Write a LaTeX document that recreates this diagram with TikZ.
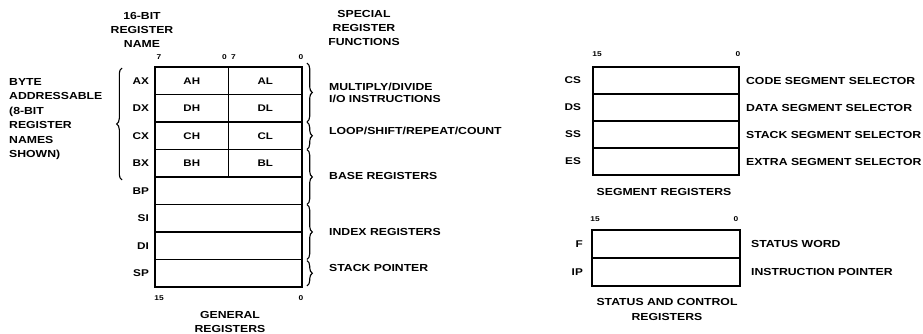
\documentclass[tikz,border=0pt]{standalone}
\usepackage{fontspec}
\newfontfamily\lab{Liberation Sans}[FakeStretch=1.2]
\usetikzlibrary{decorations.pathreplacing}
\begin{document}
\begin{tikzpicture}[x=1pt,y=-1pt,
  lbl/.style={font=\lab\bfseries\fontsize{10.2}{14.4}\selectfont, inner sep=0pt},
  lbltwo/.style={font=\lab\bfseries\fontsize{10.2}{12}\selectfont, inner sep=0pt, align=left, anchor=west},
  rname/.style={font=\lab\bfseries\fontsize{9.8}{10}\selectfont, inner sep=0pt, anchor=east},
  bit/.style={font=\lab\bfseries\fontsize{7}{7}\selectfont, inner sep=0pt},
  cell/.style={draw, line width=1.9pt, minimum height=27.5pt, inner sep=0pt,
    font=\lab\bfseries\fontsize{9.6}{10}\selectfont},
  full/.style={cell, minimum width=147pt},
  half/.style={cell, minimum width=73.5pt},
  seg/.style={cell, minimum width=146pt, minimum height=27pt},
  stat/.style={cell, minimum width=148pt, minimum height=28pt},
  brc/.style={decorate, decoration={brace, amplitude=5.5pt}, line width=1.1pt},
  fn/.style={lbl, anchor=west}]
\useasboundingbox (0,0) rectangle (923,334);

% ---- general registers ----
\node[half] (ah) at (191.75,80.75) {AH};
\node[half] (al) at (265.25,80.75) {AL};
\node[half] (dh) at (191.75,108.25) {DH};
\node[half] (dl) at (265.25,108.25) {DL};
\node[half] (ch) at (191.75,135.75) {CH};
\node[half] (cl) at (265.25,135.75) {CL};
\node[half] (bh) at (191.75,163.25) {BH};
\node[half] (bl) at (265.25,163.25) {BL};
\node[full] (bp) at (228.5,190.75) {};
\node[full] (si) at (228.5,218.25) {};
\node[full] (di) at (228.5,245.75) {};
\node[full] (sp) at (228.5,273.25) {};

\node[rname] (nax) at ([xshift=-5pt]ah.west) {AX};
\node[rname] (ndx) at ([xshift=-5pt]dh.west) {DX};
\node[rname] (ncx) at ([xshift=-5pt]ch.west) {CX};
\node[rname] (nbx) at ([xshift=-5pt]bh.west) {BX};
\node[rname] (nbp) at ([xshift=-5pt]bp.west) {BP};
\node[rname] (nsi) at ([xshift=-5pt]si.west) {SI};
\node[rname] (ndi) at ([xshift=-5pt]di.west) {DI};
\node[rname] (nsp) at ([xshift=-5pt]sp.west) {SP};

\node[bit] (b7a) at ([xshift=5pt,yshift=9pt]ah.north west) {7};
\node[bit] (b0a) at ([xshift=-5pt,yshift=9pt]ah.north east) {0};
\node[bit] (b7b) at ([xshift=6pt,yshift=9pt]al.north west) {7};
\node[bit] (b0b) at ([xshift=-2pt,yshift=9pt]al.north east) {0};
\node[bit] (b15g) at ([xshift=5pt,yshift=-10pt]sp.south west) {15};
\node[bit] (b0g) at ([xshift=-2pt,yshift=-10pt]sp.south east) {0};

\node[lbl, align=center] (ttl) at (142,30) {16-BIT\\REGISTER\\NAME};
\node[lbl, align=center] (spf) at (364,28) {SPECIAL\\REGISTER\\FUNCTIONS};
\node[lbl, align=left, anchor=west] (byte) at (9,119) {BYTE\\ADDRESSABLE\\(8-BIT\\REGISTER\\NAMES\\SHOWN)};
\node[lbl, align=center] (gen) at (230,322) {GENERAL\\REGISTERS};

% braces
\draw[brc] ([xshift=-32pt,yshift=-2pt]bh.south west) -- ([xshift=-32pt,yshift=-2pt]ah.north west);
\draw[brc] ([xshift=4pt,yshift=3pt]al.north east) -- ([xshift=4pt,yshift=1pt]dl.south east);
\draw[brc] ([xshift=4pt,yshift=-1pt]cl.north east) -- ([xshift=4pt,yshift=1pt]cl.south east);
\draw[brc] ([xshift=4pt,yshift=-1pt]bl.north east) -- ([xshift=4pt,yshift=1pt]bp.south east);
\draw[brc] ([xshift=4pt,yshift=-1pt]si.north east) -- ([xshift=4pt,yshift=1pt]di.south east);
\draw[brc] ([xshift=4pt,yshift=-2pt]sp.north east) -- ([xshift=4pt,yshift=2pt]sp.south east);

\node[lbltwo] (fmul) at (329,93) {MULTIPLY/DIVIDE\\I/O INSTRUCTIONS};
\node[fn] (floop) at (329,131) {LOOP/SHIFT/REPEAT/COUNT};
\node[fn] (fbase) at (329,176) {BASE REGISTERS};
\node[fn] (findex) at (329,232) {INDEX REGISTERS};
\node[fn] (fstack) at (329,268) {STACK POINTER};

% ---- segment registers ----
\node[seg] (cs) at (666,80.5) {};
\node[seg] (ds) at (666,107.5) {};
\node[seg] (ss) at (666,134.5) {};
\node[seg] (es) at (666,161.5) {};
\node[rname] (ncs) at ([xshift=-11pt]cs.west) {CS};
\node[rname] (nds) at ([xshift=-11pt]ds.west) {DS};
\node[rname] (nss) at ([xshift=-11pt]ss.west) {SS};
\node[rname] (nes) at ([xshift=-11pt]es.west) {ES};
\node[bit] (b15s) at ([xshift=5pt,yshift=12pt]cs.north west) {15};
\node[bit] (b0s) at ([xshift=-2pt,yshift=12pt]cs.north east) {0};
\node[fn] (lcs) at ([xshift=6pt]cs.east) {CODE SEGMENT SELECTOR};
\node[fn] (lds) at ([xshift=6pt]ds.east) {DATA SEGMENT SELECTOR};
\node[fn] (lss) at ([xshift=6pt]ss.east) {STACK SEGMENT SELECTOR};
\node[fn] (les) at ([xshift=6pt]es.east) {EXTRA SEGMENT SELECTOR};
\node[lbl] (segt) at (664,192) {SEGMENT REGISTERS};

% ---- status and control ----
\node[stat] (f) at (666,244) {};
\node[stat] (ip) at (666,272) {};
\node[rname] (nf) at ([xshift=-8pt]f.west) {F};
\node[rname] (nip) at ([xshift=-8pt]ip.west) {IP};
\node[bit] (b15f) at ([xshift=4pt,yshift=10pt]f.north west) {15};
\node[bit] (b0f) at ([xshift=-5pt,yshift=10pt]f.north east) {0};
\node[fn] (lf) at ([xshift=10pt]f.east) {STATUS WORD};
\node[fn] (lip) at ([xshift=10pt]ip.east) {INSTRUCTION POINTER};
\node[lbl, align=center] (stt) at (667,309.5) {STATUS AND CONTROL\\REGISTERS};
\end{tikzpicture}
\end{document}
